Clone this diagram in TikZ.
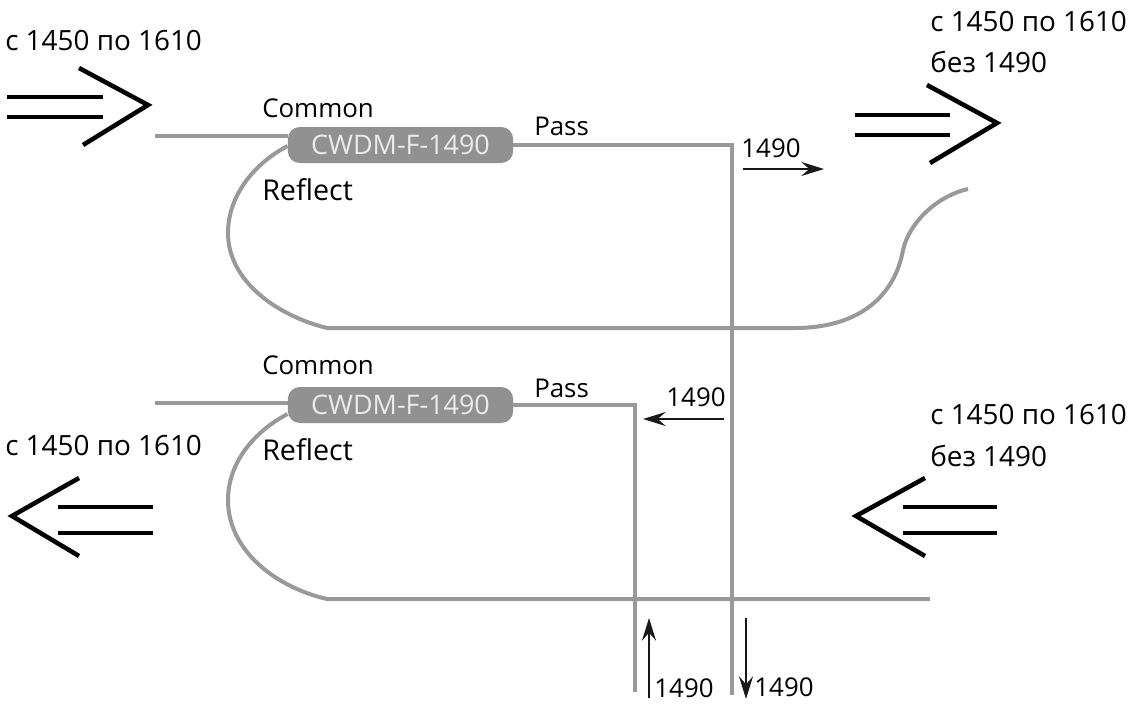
\documentclass[tikz,border=0pt]{standalone}
\usepackage{fontspec}
\setmainfont{Open Sans}
\usetikzlibrary{arrows.meta, positioning, calc}
\definecolor{fiberGray}{RGB}{153, 153, 153}
\definecolor{filterGray}{RGB}{145, 145, 145}

\begin{document}
\begin{tikzpicture}[
            x=0.75pt, y=-0.75pt,
            font=\fontsize{19.4}{22}\selectfont,
            % Styles
            filter/.style={
                rectangle, rounded corners=9pt, fill=filterGray, text=white!92!black, inner sep=0pt,
                minimum width=169pt, minimum height=27pt, font=\fontsize{20.2}{22}\selectfont
            },
            fiber/.style={draw=fiberGray, line width=3pt},
            bundle/.style={draw=black, line width=3.4pt},
            signal/.style={draw=black!90, line width=1.9pt, -{Stealth[length=17pt, width=10.5pt, inset=6pt]}},
            label/.style={inner sep=0pt, anchor=west},
            reflect/.style={label, font=\fontsize{21.5}{22}\selectfont},
            band/.style={label, font=\fontsize{20.9}{22}\selectfont},
            wave/.style={inner sep=0pt, font=\fontsize{19.4}{22}\selectfont}
        ]
            \useasboundingbox (0,0) rectangle (1128,708);

            % --- Nodes ---

            % 1. Upper filter
            \node[filter] (filterA) at (400.5,145) {CWDM-F-1490};
            \node[label] (commonA) at (262,108) {Common};
            \node[label] (passA) at (534,126) {Pass};
            \node[reflect] (reflectA) at (262,190) {Reflect};

            % 2. Lower filter
            \node[filter] (filterB) at (400.5,405) {CWDM-F-1490};
            \node[label] (commonB) at (262,365) {Common};
            \node[label] (passB) at (534,388) {Pass};
            \node[reflect] (reflectB) at (262,450) {Reflect};

            % 3. Band labels
            \node[band] (bandA) at (5,41) {с 1450 по 1610};
            \node[band] (bandB) at (930,22) {с 1450 по 1610};
            \node[band] (bandBx) at (930,62) {без 1490};
            \node[band] (bandC) at (5,446) {с 1450 по 1610};
            \node[band] (bandD) at (930,415) {с 1450 по 1610};
            \node[band] (bandDx) at (930,456) {без 1490};

            % 4. Wavelength labels
            \node[wave] (waveA) at (771,148) {1490};
            \node[wave] (waveB) at (696,397) {1490};
            \node[wave] (waveC) at (684,688) {1490};
            \node[wave] (waveD) at (784,687) {1490};

            % --- Fibers ---
            \coordinate (commonAend) at (155,136);
            \coordinate (commonBend) at (155,403);
            \coordinate (passAdown) at (732,695);
            \coordinate (passBdown) at (635,692);
            \coordinate (loopA) at (327,328);
            \coordinate (loopB) at (327,599);
            \coordinate (loopAout) at (795,328);
            \coordinate (loopAend) at (968,189);
            \coordinate (loopBend) at (930,599);

            \draw[fiber] (commonAend) -- (commonAend -| filterA.west);
            \draw[fiber] (commonBend) -- (commonBend -| filterB.west);
            \draw[fiber] (filterA.east) -- (filterA.east -| passAdown) -- (passAdown);
            \draw[fiber] (filterB.east) -- (filterB.east -| passBdown) -- (passBdown);
            \draw[fiber] ($(filterA.west)+(0,1)$) .. controls (255,163) and (228,195) .. (228,233)
                .. controls (228,280) and (275,315) .. (loopA) -- (loopAout)
                .. controls (860,328) and (895,295) .. (903,250)
                .. controls (910,220) and (940,195) .. (loopAend);
            \draw[fiber] ($(filterB.west)+(0,9)$) .. controls (255,431) and (228,462) .. (228,500)
                .. controls (228,550) and (275,587) .. (loopB) -- (loopBend);

            % --- Bundles ---
            % upper left
            \coordinate (tipA) at (148,105);
            \draw[bundle] (79,68) -- (tipA) -- (83,145);
            \draw[bundle] (7,97) -- (103,97);
            \draw[bundle] (7,117) -- (103,117);
            % upper right
            \coordinate (tipB) at (997,123);
            \draw[bundle] (927,85) -- (tipB) -- (930,163);
            \draw[bundle] (855,115) -- (950,115);
            \draw[bundle] (855,135) -- (950,135);
            % lower left
            \coordinate (tipC) at (12,516);
            \draw[bundle] (79,478) -- (tipC) -- (79,556);
            \draw[bundle] (58,507) -- (153,507);
            \draw[bundle] (58,533) -- (153,533);
            % lower right
            \coordinate (tipD) at (856,516);
            \draw[bundle] (925,478) -- (tipD) -- (925,556);
            \draw[bundle] (903,507) -- (997,507);
            \draw[bundle] (903,533) -- (997,533);

            % --- Arrows ---
            \coordinate (signalAfrom) at (743,169);
            \coordinate (signalAto) at (824,169);
            \coordinate (signalBfrom) at (724,419);
            \coordinate (signalBto) at (643,419);
            \coordinate (signalCfrom) at (649,698);
            \coordinate (signalCto) at (649,618);
            \coordinate (signalDfrom) at (746,618);
            \coordinate (signalDto) at (746,699);
            \draw[signal] (signalAfrom) -- (signalAto);
            \draw[signal] (signalBfrom) -- (signalBto);
            \draw[signal] (signalCfrom) -- (signalCto);
            \draw[signal] (signalDfrom) -- (signalDto);

        \end{tikzpicture}
\end{document}
